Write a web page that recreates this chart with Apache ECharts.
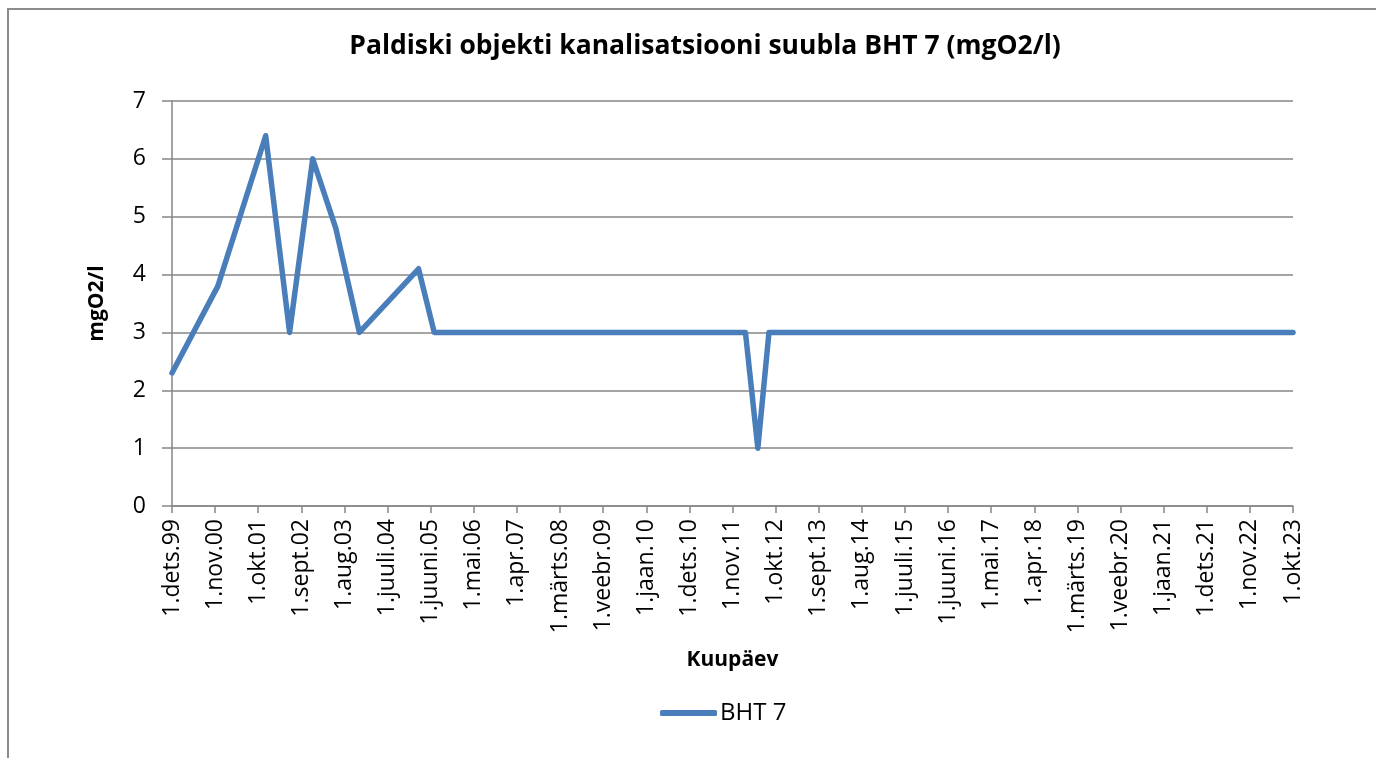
<!DOCTYPE html>
<html lang="et">
<head>
<meta charset="UTF-8">
<title>BHT 7</title>
<script src="https://cdn.jsdelivr.net/npm/echarts@6/dist/echarts.min.js"></script>
<style>
  html, body { margin: 0; padding: 0; background: #fff; }
  #chart { width: 1376px; height: 758px; }
</style>
</head>
<body>
<div id="chart"></div>
<script>
// andmed
var dates = ['1999-12-01', '2000-11-22', '2001-11-28', '2002-06-01', '2002-11-28', '2003-05-25',
             '2003-11-25', '2005-02-28', '2005-06-28', '2012-02-10', '2012-05-15', '2012-08-10', '2023-10-01'];
var bht7 = [2.3, 3.8, 6.4, 3.0, 6.0, 4.8, 3.0, 4.1, 3.0, 3.0, 1.0, 3.0, 3.0];
var monthNames = ['jaan', 'veebr', 'märts', 'apr', 'mai', 'juuni', 'juuli', 'aug', 'sept', 'okt', 'nov', 'dets'];
var yTicks = [0, 1, 2, 3, 4, 5, 6, 7];

// kuud alates 1.dets.99
function monthOffset(s) {
  var p = s.split('-');
  return (parseInt(p[0]) - 1999) * 12 + (parseInt(p[1]) - 12) + (parseInt(p[2]) - 1) / 30;
}
function monthLabel(m) {
  var k = 11 + Math.round(m);
  var yy = (1999 + Math.floor(k / 12)) % 100;
  return '1.' + monthNames[k % 12] + '.' + (yy < 10 ? '0' + yy : yy);
}

var points = dates.map(function (d, i) { return [monthOffset(d), bht7[i]]; });

var font = '"Open Sans", sans-serif';
var gray = '#868686';

var myChart = echarts.init(document.getElementById('chart'));
var option = {
  animation: false,
  textStyle: { fontFamily: font, color: '#000' },
  title: {
    text: 'Paldiski objekti kanalisatsiooni suubla BHT 7 (mgO2/l)',
    left: 700, top: 28, textAlign: 'center',
    textStyle: { fontFamily: font, fontSize: 26.5, fontWeight: 'bold', color: '#000' }
  },
  legend: {
    data: ['BHT 7'],
    left: 655, top: 696,
    icon: 'roundRect',
    itemWidth: 57, itemHeight: 6, itemGap: 4,
    textStyle: { fontFamily: font, fontSize: 24, color: '#000', padding: [0, 0, 0, -2] }
  },
  grid: { left: 172, right: 83, top: 101, bottom: 252, containLabel: false },
  xAxis: {
    type: 'value', min: 0, max: 286, interval: 11,
    name: 'Kuupäev', nameLocation: 'middle', nameGap: 144,
    nameTextStyle: { fontFamily: font, fontSize: 21, fontWeight: 'bold', color: '#000' },
    axisLine: { show: true, lineStyle: { color: gray, width: 1.5 } },
    axisTick: { show: true, length: 7, lineStyle: { color: gray, width: 1.5 } },
    splitLine: { show: false },
    axisLabel: {
      rotate: 90, margin: 13, fontSize: 23, color: '#000', fontFamily: font,
      formatter: monthLabel
    }
  },
  yAxis: {
    type: 'value', min: yTicks[0], max: yTicks[yTicks.length - 1], interval: 1,
    name: 'mgO2/l', nameLocation: 'middle', nameGap: 64,
    nameTextStyle: { fontFamily: font, fontSize: 21, fontWeight: 'bold', color: '#000' },
    axisLine: { show: true, lineStyle: { color: gray, width: 1.5 } },
    axisTick: { show: true, inside: false, length: 10, lineStyle: { color: gray, width: 1.5 } },
    splitLine: { show: true, lineStyle: { color: gray, width: 1.5 } },
    axisLabel: { margin: 26, fontSize: 23, color: '#000', fontFamily: font }
  },
  graphic: [{
    type: 'polyline',
    shape: { points: [[8, 758], [8, 9], [1376, 9]] },
    style: { stroke: '#8c8c8c', lineWidth: 2, fill: null }
  }],
  series: [{
    name: 'BHT 7', type: 'line', data: points,
    symbol: 'none',
    lineStyle: { color: '#4a7ebb', width: 5.5, cap: 'round', join: 'round' },
    itemStyle: { color: '#4a7ebb' }
  }]
};
myChart.setOption(option);
</script>
</body>
</html>
